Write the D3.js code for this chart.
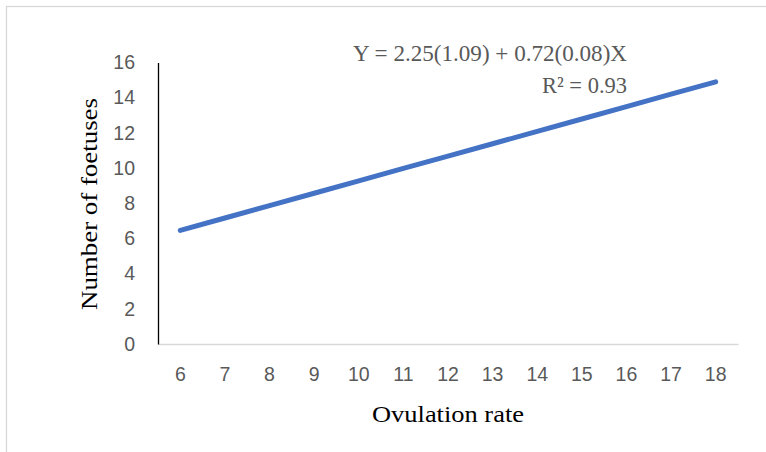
<!DOCTYPE html>
<html>
<head>
<meta charset="utf-8">
<script src="https://cdn.jsdelivr.net/npm/d3@7"></script>
<style>
  html, body { margin: 0; padding: 0; background: #fff; }
  svg { display: block; }
</style>
</head>
<body>
<svg id="chart" width="766" height="452"></svg>
<script>
// ── Data ─────────────────────────────────────────────────────────────
const ovulationRate = [6, 7, 8, 9, 10, 11, 12, 13, 14, 15, 16, 17, 18];
const foetuses = [6.46, 7.16, 7.87, 8.57, 9.27, 9.98, 10.68, 11.38, 12.09, 12.79, 13.49, 14.2, 14.9];
const yTicks = [0, 2, 4, 6, 8, 10, 12, 14, 16];
const equationLines = ['Y = 2.25(1.09) + 0.72(0.08)X', 'R² = 0.93'];

// ── Layout ───────────────────────────────────────────────────────────
const svg = d3.select('#chart');
const plot = { left: 158, right: 738, top: 62.5, bottom: 344 };

// chart area border (right/bottom run off the picture)
svg.append('rect')
  .attr('x', 6.5).attr('y', 6.5)
  .attr('width', 800).attr('height', 500)
  .attr('fill', 'none').attr('stroke', '#d9d9d9').attr('stroke-width', 1.3);

const x = d3.scaleBand()
  .domain(ovulationRate)
  .range([plot.left, plot.right]);

const y = d3.scaleLinear()
  .domain([0, 16])
  .range([plot.bottom, plot.top]);

const tickFont = '"Liberation Sans", Arial, sans-serif';
const serif = '"Liberation Serif", "Times New Roman", serif';

// ── Axes ─────────────────────────────────────────────────────────────
const xAxis = svg.append('g')
  .attr('transform', `translate(0,${plot.bottom})`)
  .call(d3.axisBottom(x).tickSize(0).tickPadding(23));
xAxis.select('.domain').attr('stroke', '#d9d9d9').attr('stroke-width', 1.5);
xAxis.selectAll('text')
  .attr('fill', '#595959').attr('font-size', 19.5).attr('font-family', tickFont);

const yAxis = svg.append('g')
  .attr('transform', `translate(${plot.left},0)`)
  .call(d3.axisLeft(y).tickValues(yTicks).tickSize(0).tickPadding(23));
yAxis.select('.domain').attr('stroke', '#000').attr('stroke-width', 1.3);
yAxis.selectAll('text')
  .attr('fill', '#595959').attr('font-size', 19.5).attr('font-family', tickFont);

// ── Line ─────────────────────────────────────────────────────────────
const line = d3.line()
  .x((d, i) => x(ovulationRate[i]) + x.bandwidth() / 2)
  .y(d => y(d));

svg.append('path')
  .datum(foetuses)
  .attr('d', line)
  .attr('fill', 'none')
  .attr('stroke', '#4472c4')
  .attr('stroke-width', 5)
  .attr('stroke-linecap', 'round')
  .attr('stroke-linejoin', 'round');

// ── Titles ───────────────────────────────────────────────────────────
svg.append('text')
  .attr('transform', 'translate(97,204) rotate(-90)')
  .attr('text-anchor', 'middle')
  .attr('font-family', serif).attr('font-size', 24).attr('fill', '#000')
  .attr('textLength', 212).attr('lengthAdjust', 'spacingAndGlyphs')
  .text('Number of foetuses');

svg.append('text')
  .attr('x', 448).attr('y', 422)
  .attr('text-anchor', 'middle')
  .attr('font-family', serif).attr('font-size', 24).attr('fill', '#000')
  .attr('textLength', 152).attr('lengthAdjust', 'spacingAndGlyphs')
  .text('Ovulation rate');

// ── Regression equation ──────────────────────────────────────────────
const eq = svg.append('g').attr('fill', '#595959')
  .attr('font-family', serif).attr('font-size', 23);
eq.append('text')
  .attr('x', 353).attr('y', 61)
  .attr('textLength', 274).attr('lengthAdjust', 'spacingAndGlyphs')
  .text(equationLines[0]);
eq.append('text')
  .attr('x', 542).attr('y', 93)
  .attr('textLength', 85).attr('lengthAdjust', 'spacingAndGlyphs')
  .text(equationLines[1]);
</script>
</body>
</html>
